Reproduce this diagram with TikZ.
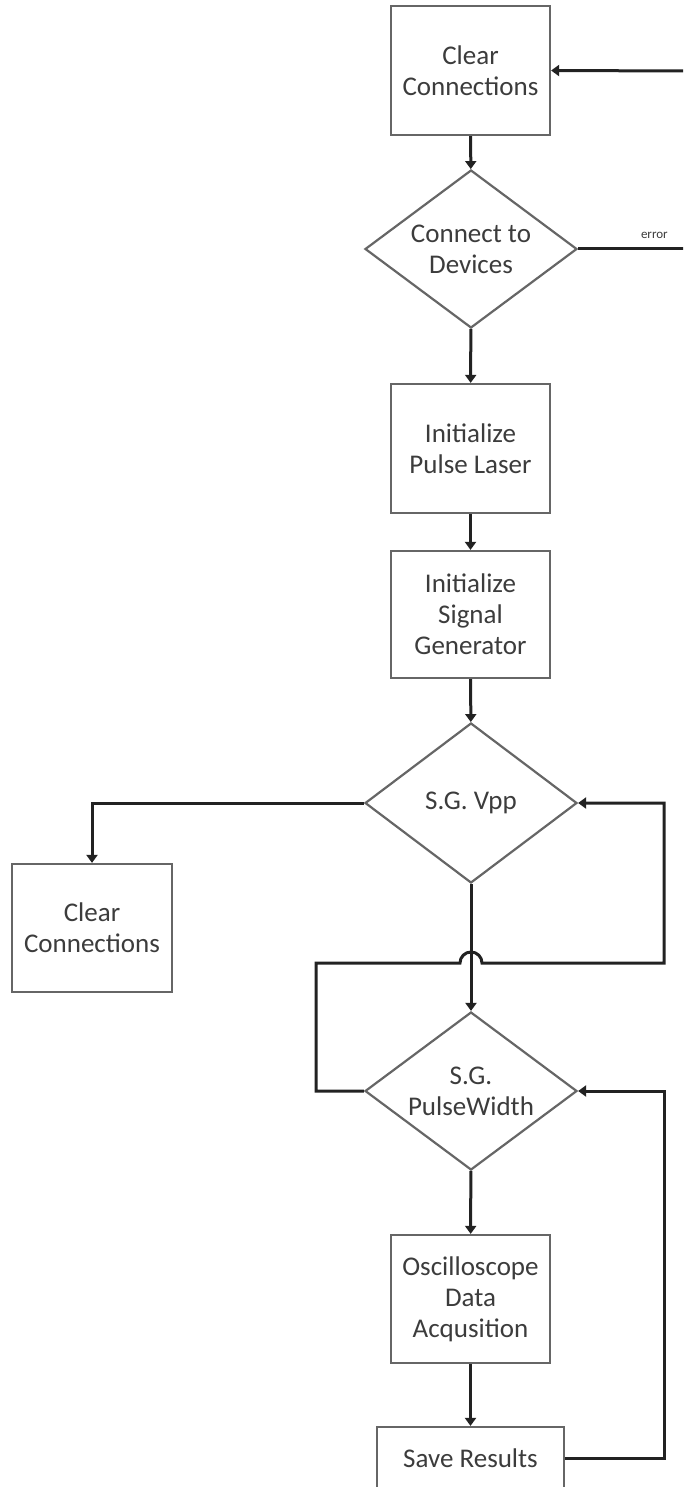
\documentclass[tikz,border=0pt]{standalone}
\usepackage{fontspec}
\setmainfont{Carlito}
\usetikzlibrary{arrows.meta,shapes.geometric}
\definecolor{txt}{HTML}{3C3C3C}
\definecolor{edge}{HTML}{666666}
\definecolor{conn}{HTML}{222222}
\begin{document}
\begin{tikzpicture}[x=1pt,y=-1pt,
  base/.style={draw=edge,line width=2.2pt,fill=white,text=txt,align=center,
    font=\fontsize{27}{31}\selectfont,inner sep=0pt},
  procbox/.style={base,rectangle,minimum width=159pt,minimum height=129pt},
  decide/.style={base,diamond,aspect=1.34,minimum width=212pt,minimum height=158pt},
  conline/.style={draw=conn,line width=3pt},
  arr/.style={conline,-{Triangle[width=11pt,length=8pt]}}]
\useasboundingbox (0,0) rectangle (683,1487);
\clip (0,0) rectangle (683,1487);
\node[procbox] (b1) at (470.5,70.5) {Clear\\Connections};
\node[decide] (d1) at (471,249) {Connect to\\Devices};
\node[procbox] (b2) at (470.5,448.5) {Initialize\\Pulse Laser};
\node[procbox,minimum height=127pt] (b3) at (470.5,614.5) {Initialize\\Signal\\Generator};
\node[decide,minimum height=160pt] (d2) at (471,803) {S.G. Vpp};
\node[procbox,minimum width=160pt,minimum height=128pt] (bl) at (92,928) {Clear\\Connections};
\node[decide] (d3) at (471,1091) {S.G.\\PulseWidth};
\node[procbox,minimum height=128pt] (b4) at (470.5,1299) {Oscilloscope\\Data\\Acqusition};
\node[procbox,minimum width=187pt,minimum height=63pt] (b5) at (470.5,1458.5) {Save Results};
\coordinate (errout) at (684,249);
\coordinate (errin) at (684,71);
\coordinate (loopA) at (316,1091);
\coordinate (loopB) at (316,963);
\coordinate (hopL) at (460,963);
\coordinate (loopC) at (664,963);
\coordinate (loopD) at (664,1458.5);
\draw[arr] (b1) -- (d1);
\draw[arr] (d1) -- (b2);
\draw[arr] (b2) -- (b3);
\draw[arr] (b3) -- (d2);
\draw[arr] (d2.west) -| (bl.north);
\draw[arr] (d2) -- (d3);
\draw[arr] (d3) -- (b4);
\draw[arr] (b4) -- (b5);
\draw[conline] (d1.east) -- (errout) node[pos=0.72,above=6pt,text=txt,font=\fontsize{13}{15}\selectfont] {error};
\draw[arr] (errin) -- (b1.east);
\draw[arr] (d3.west) -- (loopA) -- (loopB) -- (hopL) arc[start angle=180,end angle=360,radius=11] -- (loopC) |- (d2.east);
\draw[arr] (b5.east) -- (loopD) |- (d3.east);
\end{tikzpicture}
\end{document}
